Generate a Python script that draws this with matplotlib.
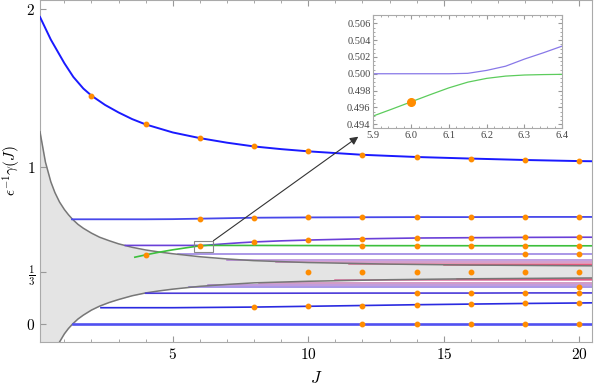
import matplotlib
matplotlib.use("Agg")
import matplotlib.pyplot as plt
from matplotlib.patches import Rectangle, ConnectionPatch

plt.rcParams['mathtext.fontset'] = 'cm'
plt.rcParams['font.family'] = 'DejaVu Serif'

# ---- data ----
# top curve
top_J = [0.1, 0.5, 1.0, 1.33, 1.7, 2.0, 2.5, 3.0, 3.5, 4, 5, 6, 7, 8, 9, 10, 12, 14, 16, 18, 20, 20.5]
top_v = [1.952, 1.808, 1.658, 1.571, 1.497, 1.452, 1.393, 1.345, 1.303, 1.269, 1.218, 1.182,
         1.153, 1.129, 1.112, 1.098, 1.076, 1.062, 1.052, 1.043, 1.036, 1.035]

# boundary of the shaded region
bnd_J = [0.1, 0.3, 0.5, 0.65, 0.82, 1.0, 1.15, 1.3, 1.5, 1.7, 2.0, 2.3, 2.65, 3.0, 3.5, 4.0,
         4.5, 5.0, 6.0, 7.0, 8.0, 10, 13, 16, 20.5]
upper_v = [1.222, 1.03, 0.904, 0.836, 0.776, 0.728, 0.695, 0.666, 0.634, 0.609, 0.578, 0.552,
           0.530, 0.51, 0.488, 0.471, 0.458, 0.447, 0.428, 0.414, 0.403, 0.391, 0.381, 0.375, 0.37]
lower_v = [-0.6, -0.37, -0.24, -0.17, -0.114, -0.062, -0.028, 0.0, 0.032, 0.057, 0.089, 0.114,
           0.137, 0.156, 0.18, 0.198, 0.211, 0.222, 0.240, 0.252, 0.262, 0.272, 0.282, 0.288, 0.293]

# nearly flat branches
line_A = ([1.3, 20.5], [0.0, 0.0])
line_B = ([2.35, 5, 8, 10, 12, 14, 16, 18, 20, 20.5],
          [0.104, 0.104, 0.108, 0.113, 0.118, 0.123, 0.127, 0.131, 0.134, 0.135])
line_C = ([4.0, 8, 12, 14, 16, 18, 20, 20.5],
          [0.196, 0.196, 0.197, 0.197, 0.197, 0.198, 0.198, 0.198])
line_D = ([1.28, 4, 5, 6, 7, 8, 10, 12, 14, 16, 18, 20, 20.5],
          [0.666, 0.666, 0.667, 0.670, 0.673, 0.676, 0.678, 0.679, 0.680, 0.680, 0.681, 0.681, 0.681])
line_E = ([3.25, 5.9, 6.0, 6.1, 6.15, 6.2, 6.25, 6.3, 6.35, 6.4, 6.6, 7, 7.5, 8, 9, 10, 12,
           14, 16, 18, 20, 20.5],
          [0.5, 0.5, 0.5, 0.5, 0.50005, 0.5004, 0.5009, 0.50175, 0.5025, 0.5033, 0.506, 0.511,
           0.517, 0.522, 0.529, 0.534, 0.542, 0.547, 0.549, 0.551, 0.552, 0.552])
green_J = [3.6, 4, 4.5, 5, 5.5, 5.9, 5.95, 6.0, 6.05, 6.1, 6.15, 6.2, 6.25, 6.3, 6.35, 6.4, 8, 12, 20.5]
green_v = [0.425, 0.44, 0.457, 0.472, 0.485, 0.49497, 0.4958, 0.49665, 0.4975, 0.49832, 0.4990,
           0.49945, 0.49972, 0.49985, 0.4999, 0.49993, 0.4998, 0.4985, 0.4975]

# bundle of lines hugging the shaded band (start J, value)
bundle_start = [5.2, 7.0, 8.8, 11.5, 15.0, 5.6, 6.3, 8.2, 11.0, 15.5]
bundle_val = [0.444, 0.410, 0.397, 0.384, 0.376, 0.237, 0.249, 0.264, 0.277, 0.288]
bundle_col = ['#6f4fd6', '#9a5ac8', '#b75aa8', '#d2487c', '#e0305a',
              '#6a4ed6', '#9456c4', '#b2559f', '#d04580', '#e23058']

# orange sample points
dots_top = [2, 4, 6, 8, 10, 12, 14, 16, 18, 20]
dots_A = [12, 14, 16, 18, 20]
dots_B = [8, 10, 12, 14, 16, 18, 20]
dots_C = [14, 16, 18, 20]
dots_D = [6, 8, 10, 12, 14, 16, 18, 20]
dots_E = [8, 10, 12, 14, 16, 18, 20]
dots_green = [4, 6, 12, 14, 16, 18, 20]
dots_third = [10, 12, 14, 16, 18, 20]
dots_444 = [18, 20]
dots_237 = [20]

x_ticks = [5, 10, 15, 20]

fig = plt.figure(figsize=(6, 3.9), dpi=100)
ax = fig.add_axes([40 / 600, 48 / 390, 552 / 600, 342 / 390])

ax.fill_between(bnd_J, lower_v, upper_v, color='#e4e4e4', lw=0, zorder=1)
ax.plot(bnd_J, upper_v, color='#777777', lw=1.1, zorder=3)
ax.plot(bnd_J, lower_v, color='#777777', lw=1.1, zorder=3)
ax.axhline(1 / 3, color='#cfcfcf', lw=0.6, zorder=0)

for s, v, c in zip(bundle_start, bundle_val, bundle_col):
    ax.plot([s, 20.5], [v, v], color=c, lw=1.1, alpha=0.75, zorder=2)

ax.plot(top_J, top_v, color='#1a1aff', lw=1.4, zorder=4)
ax.plot(*line_A, color='#5050f0', lw=1.9, zorder=4)
ax.plot(*line_B, color='#2a2ae0', lw=1.2, zorder=4)
ax.plot(*line_C, color='#4a3ad8', lw=1.2, zorder=4)
ax.plot(*line_D, color='#4848ea', lw=1.3, zorder=4)
ax.plot(*line_E, color='#6a40d8', lw=1.2, zorder=4)
ax.plot(green_J, green_v, color='#3cbf3c', lw=1.2, zorder=4)


def on_line(xs, ys, pts):
    out = []
    for x in pts:
        for i in range(len(xs) - 1):
            if xs[i] <= x <= xs[i + 1]:
                t = (x - xs[i]) / (xs[i + 1] - xs[i])
                out.append(ys[i] + t * (ys[i + 1] - ys[i]))
                break
    return out


ms = 3.2
oc = '#ff8c00'
ax.plot(dots_top, on_line(top_J, top_v, dots_top), 'o', color=oc, ms=ms, zorder=6)
ax.plot(dots_A, on_line(*line_A, dots_A), 'o', color=oc, ms=ms, zorder=6)
ax.plot(dots_B, on_line(*line_B, dots_B), 'o', color=oc, ms=ms, zorder=6)
ax.plot(dots_C, on_line(*line_C, dots_C), 'o', color=oc, ms=ms, zorder=6)
ax.plot(dots_D, on_line(*line_D, dots_D), 'o', color=oc, ms=ms, zorder=6)
ax.plot(dots_E, on_line(*line_E, dots_E), 'o', color=oc, ms=ms, zorder=6)
ax.plot(dots_green, on_line(green_J, green_v, dots_green), 'o', color=oc, ms=ms, zorder=6)
ax.plot(dots_third, [1 / 3] * len(dots_third), 'o', color=oc, ms=ms, zorder=6)
ax.plot(dots_444, [0.444] * len(dots_444), 'o', color=oc, ms=ms, zorder=6)
ax.plot(dots_237, [0.237] * len(dots_237), 'o', color=oc, ms=ms, zorder=6)

ax.set_xlim(0.1, 20.47)
ax.set_ylim(-0.114, 2.06)
ax.set_xticks(x_ticks)
ax.set_xticklabels([f'${t}$' for t in x_ticks], fontsize=11)
ax.set_xticks(range(1, 21), minor=True)
ax.set_yticks([0, 1 / 3, 1, 2])
ax.set_yticklabels(['$0$', r'$\frac{1}{3}$', '$1$', '$2$'], fontsize=11)
ax.tick_params(direction='in', colors='#999999', labelcolor='black', length=4, top=True)
ax.tick_params(which='minor', direction='in', colors='#999999', length=2.5, top=True)
for sp in ax.spines.values():
    sp.set_color('#aaaaaa')
ax.set_xlabel('$J$', fontsize=12, labelpad=6)
ax.set_ylabel(r'$\epsilon^{-1}\gamma(J)$', fontsize=11)
ax.yaxis.set_label_coords(-17 / 552, 0.5)

# zoom box and arrow
ax.add_patch(Rectangle((5.8, 0.457), 0.7, 0.073, fill=False, ec='#888888', lw=0.8, zorder=7))

ins = fig.add_axes([373.3 / 600, (390 - 128.3) / 390, 189 / 600, 113.3 / 390])
ins.plot(line_E[0], line_E[1], color='#8878e8', lw=0.9)
ins.plot(green_J, green_v, color='#5ccc5c', lw=0.9)
ins.plot([6.0], [0.4966], 'o', color=oc, ms=5.5)
ins.set_xlim(5.9, 6.4)
ins.set_ylim(0.49382, 0.50689)
ins.set_xticks([5.9, 6.0, 6.1, 6.2, 6.3, 6.4])
ins.set_xticklabels(['5.9', '6.0', '6.1', '6.2', '6.3', '6.4'])
ins.set_xticks([5.9 + 0.02 * i for i in range(26)], minor=True)
ins.set_yticks([0.494, 0.496, 0.498, 0.500, 0.502, 0.504, 0.506])
ins.set_yticklabels(['0.494', '0.496', '0.498', '0.500', '0.502', '0.504', '0.506'])
ins.set_yticks([0.4935 + 0.0005 * i for i in range(28)], minor=True)
ins.tick_params(direction='in', colors='#999999', labelcolor='#444444', labelsize=7.5,
                length=3, top=True, right=True, pad=2)
ins.tick_params(which='minor', direction='in', colors='#999999', length=1.5, top=True, right=True)
for lab in ins.get_xticklabels() + ins.get_yticklabels():
    lab.set_fontfamily('Liberation Serif')
for sp in ins.spines.values():
    sp.set_color('#aaaaaa')

arrow = ConnectionPatch(xyA=(6.5, 0.53), coordsA=ax.transData,
                        xyB=(358.3 / 600, (390 - 136.7) / 390), coordsB=fig.transFigure,
                        arrowstyle='-|>', color='#333333', lw=0.8, mutation_scale=12, zorder=8)
fig.add_artist(arrow)

fig.savefig('out.png', dpi=100)
